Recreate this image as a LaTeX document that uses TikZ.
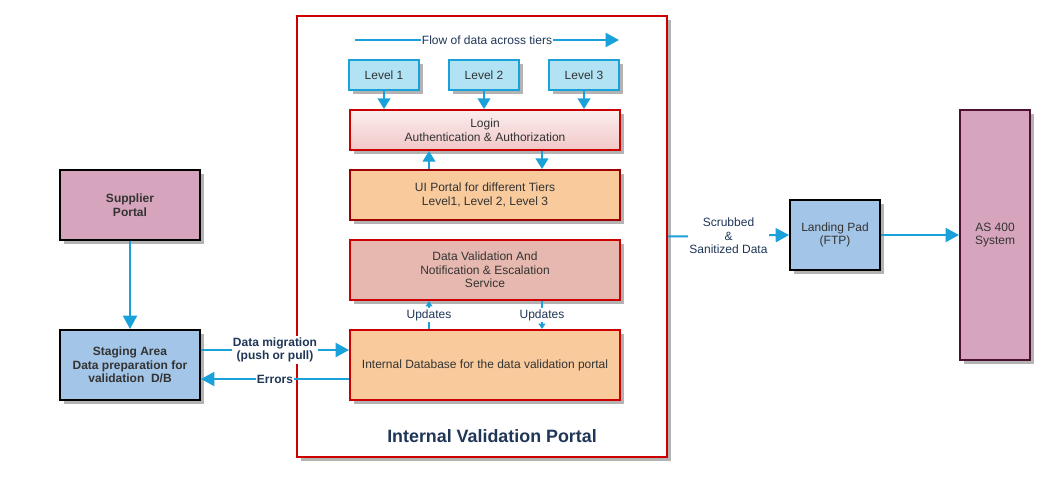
\documentclass[tikz,border=0pt]{standalone}
\usepackage{fontspec}
\setmainfont{Liberation Sans}
\usetikzlibrary{arrows.meta,shadows}
\definecolor{azul}{HTML}{1BA1DA}
\definecolor{azulclaro}{HTML}{B1E3F4}
\definecolor{azulmedio}{HTML}{A3C5E8}
\definecolor{vermelho}{HTML}{CC0000}
\definecolor{vinho}{HTML}{A00000}
\definecolor{laranja}{HTML}{F8CA9C}
\definecolor{salmao}{HTML}{E6B8AF}
\definecolor{rosa}{HTML}{D6A5BD}
\definecolor{roxo}{HTML}{4C1130}
\definecolor{sombra}{HTML}{B3B3B3}
\definecolor{texto}{HTML}{333333}
\definecolor{marinho}{HTML}{1F3657}
\definecolor{rosatopo}{HTML}{FBEEEE}
\definecolor{rosabase}{HTML}{F2C7C7}

\begin{document}
\begin{tikzpicture}[x=0.75pt,y=-0.75pt,
    caixa/.style={
        rectangle, draw, line width=1.5pt, align=center,
        inner sep=2pt, text=texto,
        drop shadow={shadow xshift=3pt,shadow yshift=-3pt,fill=sombra,opacity=1}
    },
    nivel/.style={caixa, draw=azul, fill=azulclaro,
        minimum width=52.5pt, minimum height=22.5pt},
    faixa/.style={caixa, minimum width=202.5pt},
    externo/.style={caixa, draw=black, font=\bfseries,
        minimum width=105pt, minimum height=52.5pt},
    seta/.style={draw=azul, line width=1.5pt,
        -{Triangle[width=10.5pt,length=10pt]}},
    setacurta/.style={seta, -{Triangle[width=9.5pt,length=8pt]}},
    setinha/.style={draw=azul, line width=1pt,
        -{Triangle[width=5pt,length=4pt]}},
    rotulo/.style={fill=white, inner sep=1pt, text=marinho, align=center}
    ]
    \useasboundingbox (0,0) rectangle (1050,476);
    \fontsize{9}{10.2}\selectfont

    \node [caixa, draw=vermelho, fill=white, minimum width=277.5pt,
        minimum height=330.75pt] (portal) at (482,236.5) {};
    \node [text=marinho, font=\fontsize{13.4}{15}\selectfont\bfseries]
        (titulo) at (492,436) {Internal Validation Portal};

    \coordinate (fluxoA) at (355,40);
    \coordinate (fluxoB) at (619,40);
    \draw [seta] (fluxoA) -- node [rotulo] (fluxo) {Flow of data across tiers} (fluxoB);

    \node [nivel] (lv1) at (384,75) {Level 1};
    \node [nivel] (lv2) at (484,75) {Level 2};
    \node [nivel] (lv3) at (584,75) {Level 3};

    \node [faixa, draw=vermelho, top color=rosatopo, bottom color=rosabase,
        minimum height=30pt] (login) at (485,130)
        {Login\\Authentication \& Authorization};
    \node [faixa, draw=vinho, fill=laranja, minimum height=37.5pt] (ui) at (485,195)
        {UI Portal for different Tiers\\ Level1, Level 2, Level 3};
    \node [faixa, draw=vermelho, fill=salmao, minimum height=45pt] (dv) at (485,270)
        {Data Validation And\\Notification \& Escalation\\Service};
    \node [faixa, draw=vermelho, fill=laranja, minimum height=52.5pt] (db) at (485,365)
        {Internal Database for the data validation portal};

    \foreach \n in {lv1,lv2,lv3}
        \draw [setacurta] (\n.south) -- (\n.south |- login.north);
    \draw [setacurta] ([xshift=-42pt]ui.north) -- ([xshift=-42pt]login.south);
    \draw [setacurta] ([xshift=42.75pt]login.south) -- ([xshift=42.75pt]ui.north);
    \draw [setinha] ([xshift=-42pt]db.north) -- node [rotulo] (upd1) {Updates} ([xshift=-42pt]dv.south);
    \draw [setinha] ([xshift=42.75pt]dv.south) -- node [rotulo] (upd2) {Updates} ([xshift=42.75pt]db.north);

    \node [externo, fill=rosa] (fornecedor) at (130,205) {Supplier\\Portal};
    \node [externo, fill=azulmedio] (staging) at (130,365)
        {Staging Area\\Data preparation for\\validation~ D/B};
    \draw [seta] (fornecedor) -- (staging);
    \draw [seta] ([yshift=11.25pt]staging.east) -- node [rotulo, font=\bfseries] (migra)
        {Data migration\\(push or pull)} ([yshift=11.25pt]db.west);
    \draw [seta] ([yshift=-10.5pt]db.west) -- node [rotulo, font=\bfseries] (erros)
        {Errors} ([yshift=-10.5pt]staging.east);

    \node [caixa, draw=black, fill=azulmedio, minimum width=67.5pt,
        minimum height=52.5pt] (landing) at (835,235) {Landing Pad\\(FTP)};
    \node [caixa, draw=roxo, fill=rosa, minimum width=52.5pt,
        minimum height=187.5pt] (as400) at (995,235) {AS 400\\System};
    \draw [seta] (portal.east) -- node [rotulo] (limpo)
        {Scrubbed\\\&\\Sanitized Data} (landing.west);
    \draw [seta] (landing) -- (as400);
\end{tikzpicture}
\end{document}
